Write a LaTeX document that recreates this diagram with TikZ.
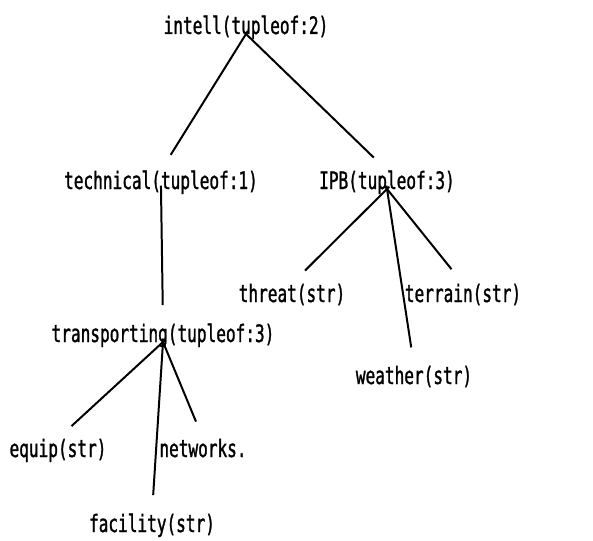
\documentclass[tikz,border=0pt]{standalone}
\usepackage{fontspec}
\usepackage{tikz}
\newfontfamily\scanfont[FakeStretch=0.67,FakeBold=1.2]{DejaVu Sans Mono}

\begin{document}
\begin{tikzpicture}[
        x=0.03cm, y=-0.03cm,
        field/.style={inner sep=0pt, anchor=base, font=\scanfont\fontsize{20.5}{24}\selectfont},
        link/.style={line width=1.7pt, shorten <=-0.1cm, shorten >=0.55cm}
    ]
        \useasboundingbox (0,0) rectangle (593,541);

        % Root
        \node[field] (intell) at (246,34) {intell(tupleof:2)};

        % Second level
        \node[field] (technical) at (161,189) {technical(tupleof:1)};
        \node[field] (ipb) at (387,189) {IPB(tupleof:3)};

        % IPB children
        \node[field] (threat) at (292,302) {threat(str)};
        \node[field] (terrain) at (463,302) {terrain(str)};
        \node[field] (weather) at (414,384) {weather(str)};

        % technical branch
        \node[field] (transporting) at (163,342) {transporting(tupleof:3)};
        \node[field] (equip) at (58,457) {equip(str)};
        \node[field] (networks) at (203,457) {networks.};
        \node[field] (facility) at (152,532) {facility(str)};

        % Links
        \draw[link] (intell.base) -- (technical.north);
        \draw[link] (intell.base) -- (ipb.north);
        \draw[link] (ipb.base) -- (threat.north);
        \draw[link] (ipb.base) -- (terrain.north);
        \draw[link] (ipb.base) -- (weather.north);
        \draw[link] (technical.base) -- (transporting.north);
        \draw[link] (transporting.base) -- (equip.north);
        \draw[link] (transporting.base) -- (networks.north);
        \draw[link] (transporting.base) -- (facility.north);
\end{tikzpicture}
\end{document}
